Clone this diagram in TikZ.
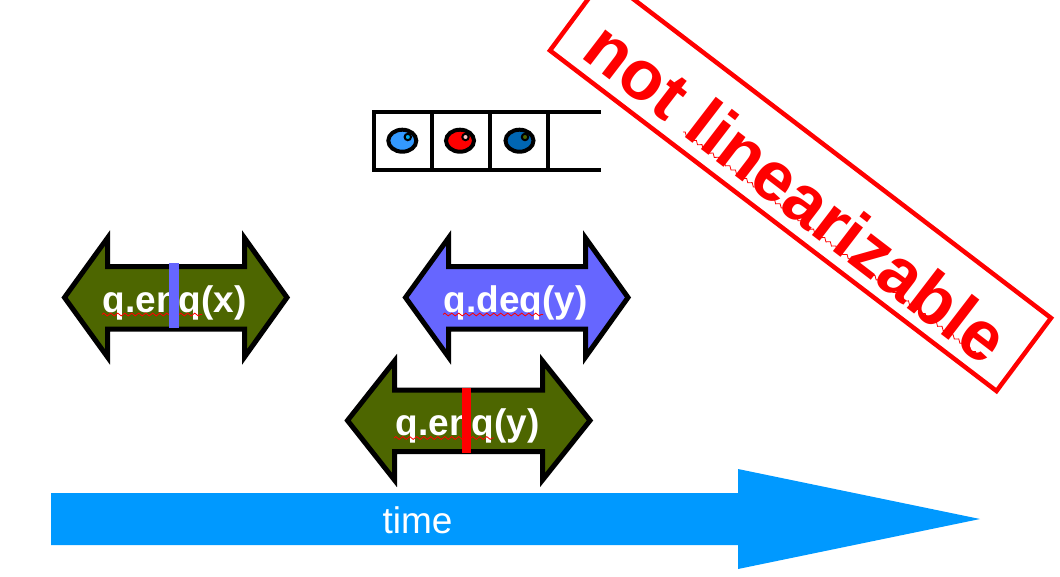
\documentclass[tikz,border=0pt]{standalone}
\usepackage{fontspec}
\setmainfont{Liberation Sans}
\usetikzlibrary{decorations.pathmorphing}
\definecolor{olivefill}{HTML}{4D6600}
\definecolor{violetfill}{HTML}{6666FF}
\definecolor{timeblue}{HTML}{0099FF}
\definecolor{ballA}{HTML}{3399FF}
\definecolor{ballC}{HTML}{0066B3}
\definecolor{dotC}{HTML}{4D6600}
\tikzset{
  dblarrow/.style={draw=black,line width=5pt,miter limit=10,line join=miter},
  oplabel/.style={text=white,font=\fontsize{37}{37}\selectfont\bfseries,anchor=base,inner sep=0pt},
  squiggle/.style={draw=red,line width=0.8pt,decorate,decoration={zigzag,amplitude=1.4pt,segment length=7pt}},
  cell/.style={draw=black,line width=4pt,line cap=butt},
  ball/.style={draw=black,line width=4pt},
  tick/.style={line width=0pt},
}
\newcommand{\dblarrowpath}[6]{% xl xi xj xr ytop... 
}
\begin{document}
\begin{tikzpicture}[x=1pt,y=-1pt]
\useasboundingbox (0,0) rectangle (1060,576);
\clip (0,0) rectangle (1060,576);
% banner
\draw[draw=red,fill=white,line width=4.5pt,miter limit=10]
  (550,50.5) -- (996.5,391) -- (1051,318) -- (604.5,-23) -- cycle;
\node[text=red,font=\fontsize{70}{70}\selectfont\bfseries,rotate=-37.5,inner sep=0pt,anchor=base] (banner) at (782,212) {not linearizable};
\coordinate (bw1) at (683,132);
\coordinate (bw2) at (983,359);
\path[squiggle] (bw1) -- (bw2);
% queue
\draw[cell] (600.7,111.7) -- (374,111.7) -- (374,169.5) -- (600.7,169.5);
\draw[cell] (431.7,111.7) -- (431.7,169.5);
\draw[cell] (490,111.7) -- (490,169.5);
\draw[cell] (547.7,111.7) -- (547.7,169.5);
\foreach \cx/\fc/\dc in {402.3/ballA/cyan,460/red/pink,519.5/ballC/dotC}{
  \draw[ball,fill=\fc] (\cx,140.7) ellipse [x radius=14,y radius=11];
  \draw[black,line width=2pt,fill=\dc] (\cx+5.5,137) circle [radius=3.2];
}
% enq x
\draw[dblarrow,fill=olivefill] (64.5,297.5) -- (107.5,238) -- (107.5,266.5) -- (244.5,266.5) -- (244.5,238) -- (287,297.5) -- (244.5,357) -- (244.5,329) -- (107.5,329) -- (107.5,357) -- cycle;
\node[oplabel] (enqx) at (174.5,312) {q.enq(x)};
\coordinate (w1a) at (102,314.5);
\coordinate (w1b) at (202,314.5);
\path[squiggle] (w1a) -- (w1b);
\fill[violetfill] (169.3,262.5) rectangle (179.3,327.5);
% deq y
\draw[dblarrow,fill=violetfill] (405.5,297.5) -- (448.5,238) -- (448.5,266.5) -- (585.5,266.5) -- (585.5,238) -- (628,297.5) -- (585.5,357) -- (585.5,329) -- (448.5,329) -- (448.5,357) -- cycle;
\node[oplabel] (deqy) at (515.5,312) {q.deq(y)};
\coordinate (w2a) at (443,314.5);
\coordinate (w2b) at (543,314.5);
\path[squiggle] (w2a) -- (w2b);
% enq y
\draw[dblarrow,fill=olivefill] (347.5,420.5) -- (394.5,361) -- (394.5,390) -- (542.5,390) -- (542.5,361) -- (590,420.5) -- (542.5,480) -- (542.5,451.5) -- (394.5,451.5) -- (394.5,480) -- cycle;
\node[oplabel] (enqy) at (467.5,435) {q.enq(y)};
\coordinate (w3a) at (394,438);
\coordinate (w3b) at (494,438);
\path[squiggle] (w3a) -- (w3b);
\fill[red] (461.7,387.5) rectangle (471.4,452.7);
% time
\fill[timeblue] (51,493) -- (738,493) -- (738,469) -- (980,519) -- (738,569) -- (738,545) -- (51,545) -- cycle;
\node[text=white,font=\fontsize{37}{37}\selectfont,anchor=base,inner sep=0pt] (timelabel) at (417.5,533) {time};
\end{tikzpicture}
\end{document}
